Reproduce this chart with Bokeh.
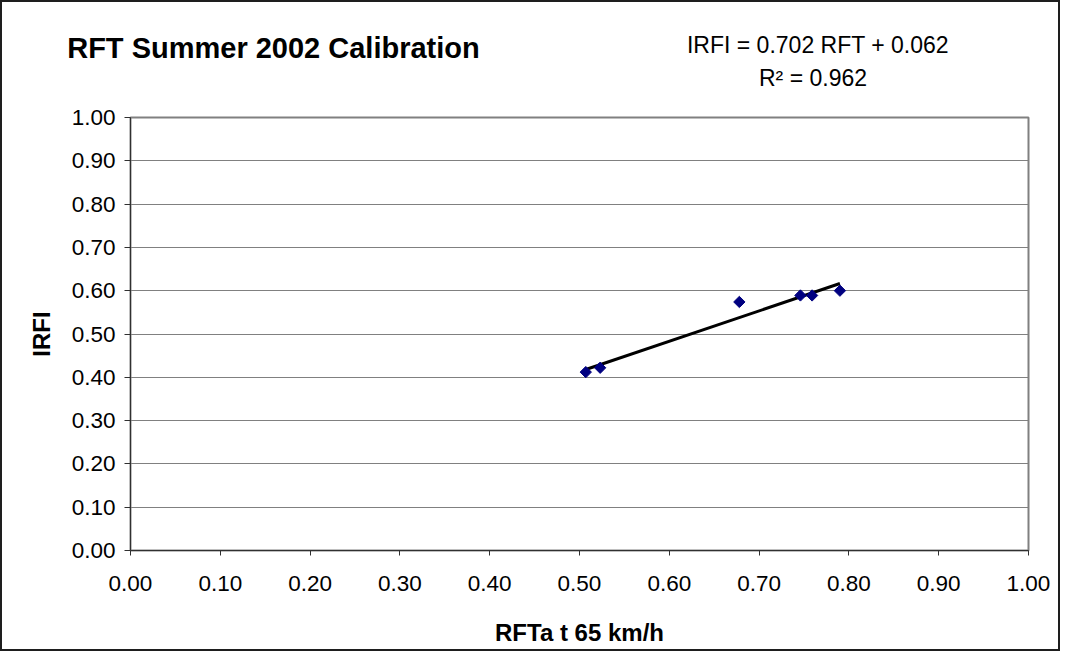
import numpy as np
from bokeh.plotting import figure
from bokeh.models import Range1d, FixedTicker, NumeralTickFormatter
from bokeh.core.properties import value
from bokeh.embed import file_html
from bokeh.resources import INLINE

# ---- data ----
rft = [0.507, 0.523, 0.678, 0.746, 0.759, 0.790]
irfi = [0.412, 0.422, 0.574, 0.589, 0.589, 0.600]
slope = 0.702
intercept = 0.062
r_squared = 0.962
tick_values = [0.0, 0.1, 0.2, 0.3, 0.4, 0.5, 0.6, 0.7, 0.8, 0.9, 1.0]

title_text = "RFT Summer 2002 Calibration"
eq_text = f"IRFI = {slope:.3f} RFT + {intercept:.3f}"
r2_text = f"R\u00b2 = {r_squared:.3f}"
x_title = "RFTa t 65 km/h"
y_title = "IRFI"

FONT = "Liberation Sans"
W = 1060
HEAD_H = 98
MAIN_H = 553
BORDER = "2px solid #1e1e1e"

# ---- header (title + regression equation) ----
head = figure(width=W, height=HEAD_H, output_backend="svg", toolbar_location=None,
              x_range=Range1d(0, W), y_range=Range1d(HEAD_H, 0),
              x_axis_location=None, y_axis_location=None, title_location=None,
              min_border=0, min_border_left=0, min_border_right=0,
              min_border_top=0, min_border_bottom=0,
              background_fill_color="white", border_fill_color="white")
head.outline_line_color = None
head.grid.grid_line_color = None
head.styles = {"border-top": BORDER, "border-left": BORDER, "border-right": BORDER}
head.text(x=[64.7], y=[45.1], text=[title_text], text_font=value(FONT),
          text_font_style="bold", text_font_size="29px", text_color="black",
          text_align="left", text_baseline="middle")
head.text(x=[815.5, 810.5], y=[42.0, 75.3], text=[eq_text, r2_text],
          text_font=value(FONT), text_font_size="23px", text_color="black",
          text_align="center", text_baseline="middle")

# ---- main chart ----
p = figure(width=W, height=MAIN_H, output_backend="svg", toolbar_location=None,
           x_range=Range1d(0, 1), y_range=Range1d(0, 1), title_location=None,
           min_border_left=128, min_border_right=34,
           min_border_top=19, min_border_bottom=101,
           background_fill_color="white", border_fill_color="white")
p.styles = {"border-left": BORDER, "border-right": BORDER, "border-bottom": BORDER}

p.outline_line_color = "#808080"
p.outline_line_width = 2

p.xgrid.grid_line_color = None
p.ygrid.grid_line_color = "#808080"
p.ygrid.grid_line_width = 1

for ax in (p.xaxis[0], p.yaxis[0]):
    ax.ticker = FixedTicker(ticks=tick_values)
    ax.formatter = NumeralTickFormatter(format="0.00")
    ax.major_label_text_font = FONT
    ax.major_label_text_font_size = "22.5px"
    ax.major_label_text_color = "black"
    ax.axis_line_color = "#303030"
    ax.axis_line_width = 1
    ax.major_tick_line_color = "#303030"
    ax.minor_tick_line_color = None
    ax.major_tick_in = 0
    ax.axis_label_text_font = FONT
    ax.axis_label_text_font_style = "bold"
    ax.axis_label_text_font_size = "24px"
    ax.axis_label_text_color = "black"

p.xaxis.major_tick_out = 5
p.yaxis.major_tick_out = 6
p.xaxis.major_label_standoff = 20
p.yaxis.major_label_standoff = 9
p.xaxis.axis_label = x_title
p.yaxis.axis_label = y_title
p.xaxis.axis_label_standoff = 25
p.yaxis.axis_label_standoff = 14

# trend line over data extent
xs = np.array([min(rft), max(rft)])
ys = slope * xs + intercept
p.line(xs, ys, line_color="black", line_width=3)

# data points (diamonds)
p.scatter(rft, irfi, marker="square", angle=np.pi / 4, size=8,
          fill_color="#000080", line_color="#000080")

open("out.html", "w").write(file_html([head, p], INLINE))
